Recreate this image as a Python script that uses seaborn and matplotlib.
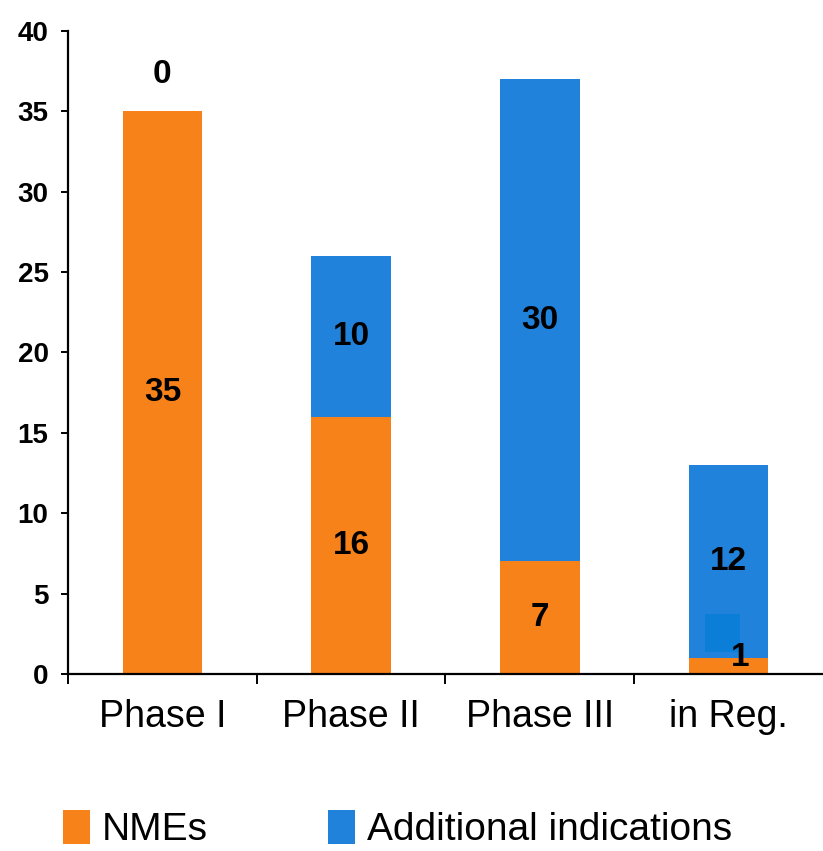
import matplotlib
matplotlib.use("Agg")
import matplotlib.pyplot as plt
from matplotlib.patches import Patch, Rectangle
from matplotlib.ticker import FixedLocator
import pandas as pd
import seaborn as sns

# Pipeline counts per development stage
stages = ["Phase I", "Phase II", "Phase III", "in Reg."]
nmes = [35, 16, 7, 1]
additional = [0, 10, 30, 12]

ORANGE = "#F8821A"
BLUE = "#2082DA"

sns.set_theme(style="white")
plt.rcParams["font.family"] = ["Liberation Sans", "DejaVu Sans"]
plt.rcParams["text.color"] = "black"
plt.rcParams["xtick.color"] = "black"
plt.rcParams["ytick.color"] = "black"

df = pd.DataFrame({"stage": stages, "nmes": nmes, "additional": additional})
df["total"] = df["nmes"] + df["additional"]

fig = plt.figure(figsize=(8.23, 8.51), dpi=100)
ax = fig.add_axes([0.0826, 0.208, 0.9174, 0.7556])

# Stacked bars: full height in blue, NME part in orange over it
sns.barplot(data=df, x="stage", y="total", color=BLUE, saturation=1,
            width=0.42, linewidth=0, ax=ax)
sns.barplot(data=df, x="stage", y="nmes", color=ORANGE, saturation=1,
            width=0.42, linewidth=0, ax=ax)

# Small overlay block inside the last bar
ax.add_patch(Rectangle((3 - 0.125, 1.37), 0.185, 2.36,
                       facecolor="#0B7ED7", edgecolor="none", zorder=3))

# Value labels at the middle of each segment
label_kw = dict(ha="center", va="center", fontsize=24, fontweight="bold",
                color="black", zorder=4)
for i, (n, a) in enumerate(zip(nmes, additional)):
    ax.text(i + (0.06 if n < 3 else 0), n / 2 if n >= 3 else 1.0, str(n), **label_kw)
    if a == 0:
        ax.text(i, n + a + 2.3, str(a), **label_kw)
    else:
        ax.text(i, n + a / 2, str(a), **label_kw)

ax.set_ylim(0, 40)
ax.set_xlim(-0.5, 3.5)
ax.set_yticks(range(0, 41, 5))
ax.set_yticklabels([str(v) for v in range(0, 41, 5)], fontsize=20,
                   fontweight="bold", color="black")
ax.set_xticks(range(len(stages)))
ax.set_xticklabels(stages, fontsize=27, color="black")
ax.xaxis.set_minor_locator(FixedLocator([-0.5, 0.5, 1.5, 2.5]))
ax.set_xlabel("")
ax.set_ylabel("")

for side in ("top", "right"):
    ax.spines[side].set_visible(False)
for side in ("left", "bottom"):
    ax.spines[side].set_color("black")
    ax.spines[side].set_linewidth(1.6)

ax.tick_params(axis="y", which="major", left=True, direction="out",
               length=5, width=1.4, color="black", pad=9)
ax.tick_params(axis="x", which="major", bottom=True, length=0, pad=18)
ax.tick_params(axis="x", which="minor", bottom=True, direction="out",
               length=7, width=1.4, color="black")
ax.grid(False)

handles = [Patch(facecolor=ORANGE, edgecolor="none", label="NMEs"),
           Patch(facecolor=BLUE, edgecolor="none", label="Additional indications")]
fig.legend(handles=handles, loc="center left", bbox_to_anchor=(0.076, 0.026),
           ncol=2, frameon=False, fontsize=28, handlelength=0.7,
           handleheight=1.0, handletextpad=0.3, columnspacing=3.1,
           borderaxespad=0, borderpad=0)

fig.savefig("out.png", dpi=100)
